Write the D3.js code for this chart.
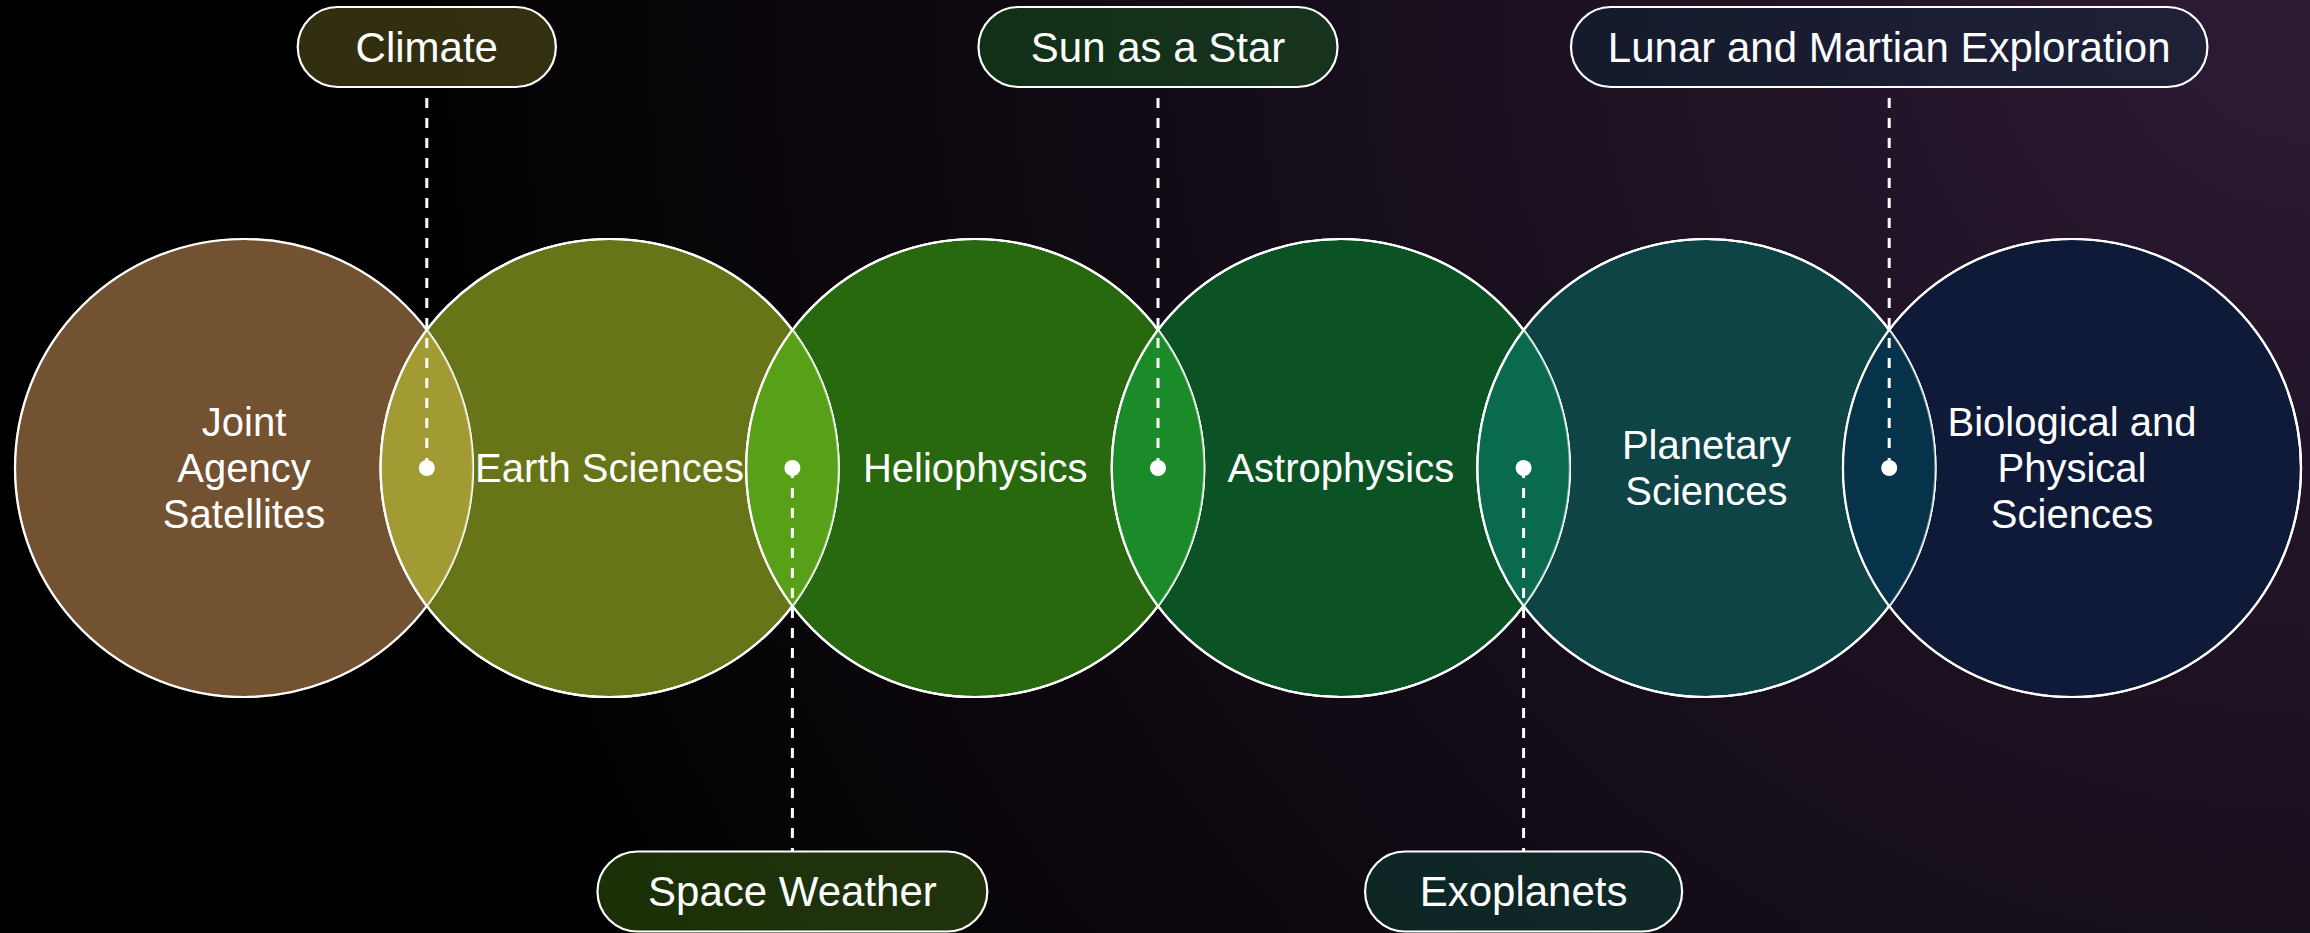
<!DOCTYPE html>
<html>
<head>
<meta charset="utf-8">
<script src="https://cdn.jsdelivr.net/npm/d3@7"></script>
<style>
    body { margin: 0; background: #000; }
    svg { display: block; }
</style>
</head>
<body>
<div id="chart"></div>
<script>
// the disciplines, one circle each, left to right
var disciplines = ["Joint Agency Satellites", "Earth Sciences", "Heliophysics", "Astrophysics", "Planetary Sciences", "Biological and Physical Sciences"];
var disciplineLines = [["Joint", "Agency", "Satellites"], ["Earth Sciences"], ["Heliophysics"], ["Astrophysics"], ["Planetary", "Sciences"], ["Biological and", "Physical", "Sciences"]];
var disciplineColors = ["#735232", "#687418", "#28680f", "#0b5325", "#0f4447", "#0f1a38"];

// shared topics where two neighbouring circles overlap
var overlaps = ["Climate", "Space Weather", "Sun as a Star", "Exoplanets", "Lunar and Martian Exploration"];
var overlapSide = ["top", "bottom", "top", "bottom", "top"];
var overlapColors = ["#a29b33", "#58a018", "#1b8a28", "#0a6a4e", "#07334a"];

// set the dimensions of the picture
var width = 2310,
    height = 933,
    r = 229,
    cy = 468,
    pillH = 80,
    topPillY = 47,
    bottomPillY = 891.5;

var font = "'Liberation Sans', Arial, sans-serif";

// the circles sit on a point scale
var x = d3.scalePoint()
    .domain(disciplines)
    .range([244, 2072]);

var svg = d3.select("#chart").append("svg")
    .attr("width", width)
    .attr("height", height);

// background glow from the top right corner
var defs = svg.append("defs");
var bg = defs.append("radialGradient")
    .attr("id", "bg")
    .attr("gradientUnits", "userSpaceOnUse")
    .attr("cx", width).attr("cy", 0).attr("r", 2300);
bg.append("stop").attr("offset", 0).attr("stop-color", "#2d1b35");
bg.append("stop").attr("offset", 0.85).attr("stop-color", "#000");
bg.append("stop").attr("offset", 1).attr("stop-color", "#000");

svg.append("rect")
    .attr("width", width)
    .attr("height", height)
    .attr("fill", "url(#bg)");

// circle fills
svg.selectAll(".disc")
    .data(disciplines)
    .enter().append("circle")
    .attr("class", "disc")
    .attr("cx", function (d) { return x(d); })
    .attr("cy", cy)
    .attr("r", r)
    .attr("fill", function (d, i) { return disciplineColors[i]; });

function ring(i, opacity) {
    svg.append("circle")
        .attr("cx", x(disciplines[i]))
        .attr("cy", cy)
        .attr("r", r)
        .attr("fill", "none")
        .attr("stroke", "#fff")
        .attr("stroke-opacity", opacity)
        .attr("stroke-width", 2.2);
}

disciplines.forEach(function (d, i) { ring(i, 1); });

function lensPath(i) {
    var x1 = x(disciplines[i]),
        x2 = x(disciplines[i + 1]),
        mx = (x1 + x2) / 2,
        half = (x2 - x1) / 2,
        h = Math.sqrt(r * r - half * half);
    return "M" + mx + "," + (cy - h) +
        "A" + r + "," + r + " 0 0 1 " + mx + "," + (cy + h) +
        "A" + r + "," + r + " 0 0 1 " + mx + "," + (cy - h) + "Z";
}

function midX(i) {
    return (x(disciplines[i]) + x(disciplines[i + 1])) / 2;
}

// overlap lenses, the left circle's edge shows through faintly
overlaps.forEach(function (d, i) {
    svg.append("path")
        .attr("d", lensPath(i))
        .attr("fill", overlapColors[i]);
    ring(i, 0.5);
    ring(i + 1, 1);
});

// dashed leader lines
svg.selectAll(".leader")
    .data(overlaps)
    .enter().append("line")
    .attr("class", "leader")
    .attr("x1", function (d, i) { return midX(i); })
    .attr("x2", function (d, i) { return midX(i); })
    .attr("y1", cy)
    .attr("y2", function (d, i) {
        return overlapSide[i] == "top" ? topPillY + pillH / 2 : bottomPillY - pillH / 2;
    })
    .attr("stroke", "#fff")
    .attr("stroke-width", 3)
    .attr("stroke-dasharray", "10,10");

svg.selectAll(".dot")
    .data(overlaps)
    .enter().append("circle")
    .attr("class", "dot")
    .attr("cx", function (d, i) { return midX(i); })
    .attr("cy", cy)
    .attr("r", 8)
    .attr("fill", "#fff");

// pill labels
var pills = svg.selectAll(".pill")
    .data(overlaps)
    .enter().append("g")
    .attr("class", "pill")
    .attr("transform", function (d, i) {
        return "translate(" + midX(i) + "," + (overlapSide[i] == "top" ? topPillY : bottomPillY) + ")";
    });

pills.append("text")
    .attr("text-anchor", "middle")
    .attr("dominant-baseline", "central")
    .attr("font-family", font)
    .attr("font-size", 42)
    .attr("fill", "#fff")
    .text(function (d) { return d; });

pills.each(function (d, i) {
    var g = d3.select(this);
    var w = g.select("text").node().getComputedTextLength() * 0.9 + 130;
    g.insert("rect", "text")
        .attr("x", -w / 2)
        .attr("y", -pillH / 2)
        .attr("width", w)
        .attr("height", pillH)
        .attr("rx", pillH / 2)
        .attr("fill", overlapColors[i])
        .attr("fill-opacity", 0.3)
        .attr("stroke", "#fff")
        .attr("stroke-width", 2.2);
});

// circle labels
var labels = svg.selectAll(".label")
    .data(disciplines)
    .enter().append("text")
    .attr("class", "label")
    .attr("text-anchor", "middle")
    .attr("font-family", font)
    .attr("font-size", 40)
    .attr("fill", "#fff");

labels.each(function (d, i) {
    var lines = disciplineLines[i];
    d3.select(this).selectAll("tspan")
        .data(lines)
        .enter().append("tspan")
        .attr("x", x(d))
        .attr("y", function (l, j) { return cy + (j - (lines.length - 1) / 2) * 46; })
        .attr("dominant-baseline", "central")
        .text(function (l) { return l; });
});
</script>
</body>
</html>
